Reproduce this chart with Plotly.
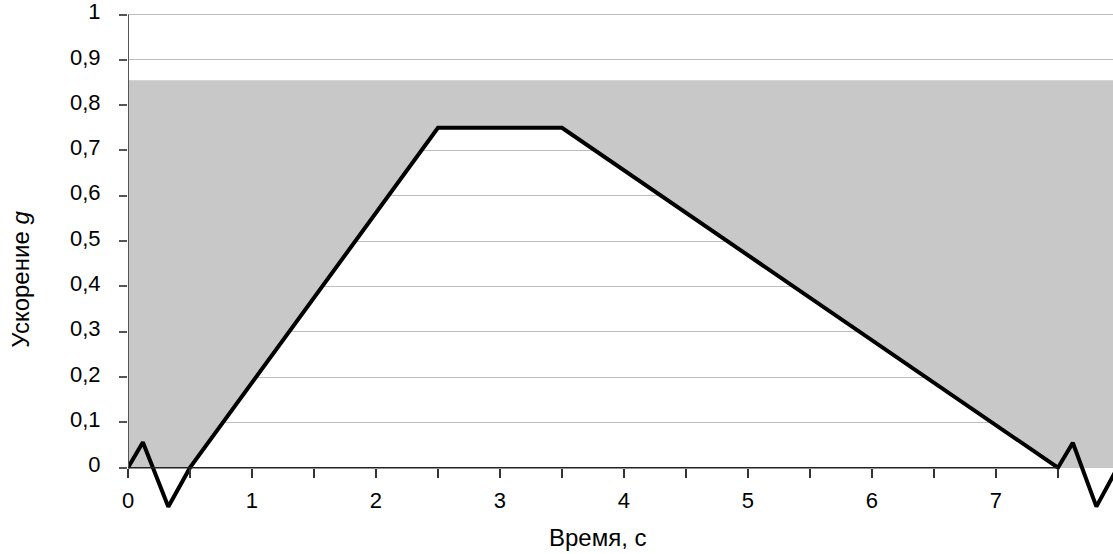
import plotly.graph_objects as go

# Data
time_s = [0, 0.12, 0.325, 0.5, 2.5, 3.5, 7.5, 7.62, 7.81, 8.0]
accel_g = [0, 0.056, -0.086, 0, 0.75, 0.75, 0, 0.055, -0.086, 0.01]

band_top = 0.855          # upper limit of grey band
x_axis_end = 7.5          # axis line drawn only up to this time
x_max = 7.944
y_min, y_max = -0.1, 1.01
y_tick_vals = [0, 0.1, 0.2, 0.3, 0.4, 0.5, 0.6, 0.7, 0.8, 0.9, 1]
y_tick_text = ["0", "0,1", "0,2", "0,3", "0,4", "0,5", "0,6", "0,7", "0,8", "0,9", "1"]
x_tick_vals = [i * 0.5 for i in range(16)]
x_tick_text = [str(int(v)) if v == int(v) else "" for v in x_tick_vals]

# grey band: from max(curve,0) (the trapezoid) up to band_top
trap = [(x, y) for x, y in zip(time_s, accel_g) if 0.5 <= x <= 7.5]
poly_x = [0, x_max, x_max] + [p[0] for p in reversed(trap)] + [0, 0]
poly_y = [band_top, band_top, 0] + [p[1] for p in reversed(trap)] + [0, band_top]

FONT = "Liberation Sans, Arial, sans-serif"

# plot area at page x 128..1113, y 10..513.5 (body margin removed via post_script)
L, T, R_EDGE, B_EDGE = 128, 10, 1113, 513.5
W, H = 1113, 554
plot_w = R_EDGE - L
plot_h = B_EDGE - T

fig = go.Figure()
fig.add_trace(go.Scatter(x=poly_x, y=poly_y, fill="toself", mode="none",
                         fillcolor="#c8c8c8", hoverinfo="skip", showlegend=False))
fig.add_trace(go.Scatter(x=time_s, y=accel_g, mode="lines",
                         line=dict(color="#000000", width=4), showlegend=False))

fig.add_shape(type="line", xref="x", yref="y", x0=0, x1=0, y0=0, y1=1,
              line=dict(color="#555555", width=2), layer="above")
fig.add_shape(type="line", xref="x", yref="y", x0=0, x1=x_axis_end, y0=0, y1=0,
              line=dict(color="#222222", width=1.5), layer="above")

fig.update_layout(
    width=W, height=H,
    margin=dict(l=L, r=W - R_EDGE, t=T, b=H - B_EDGE),
    plot_bgcolor="white", paper_bgcolor="white",
    font=dict(family=FONT, size=22, color="#000000"),
    xaxis=dict(range=[0, x_max], showgrid=False, zeroline=False, showline=False,
               anchor="free", position=(0 - y_min) / (y_max - y_min), automargin=False,
               tickmode="array", tickvals=x_tick_vals, ticktext=x_tick_text,
               ticks="outside", ticklen=9, tickwidth=1.5, tickcolor="#333333",
               ticklabelstandoff=4, tickfont=dict(size=22)),
    yaxis=dict(range=[y_min, y_max], showgrid=True, gridcolor="#bdbdbd", gridwidth=1.3,
               zeroline=False, showline=False, automargin=False,
               tickmode="array", tickvals=y_tick_vals, ticktext=y_tick_text,
               ticks="outside", ticklen=8, tickwidth=1.5, tickcolor="#555555",
               ticklabelstandoff=14, ticklabelshift=-3, ticklabeloverflow="allow",
               tickfont=dict(size=22)),
    annotations=[
        dict(text="Время, с", xref="paper", yref="paper", showarrow=False,
             x=(598 - L) / plot_w, y=-(538 - B_EDGE) / plot_h,
             xanchor="center", yanchor="middle", font=dict(family=FONT, size=24)),
        dict(text="Ускорение <i>g</i>", xref="paper", yref="paper", showarrow=False,
             x=-(L - 21) / plot_w, y=(B_EDGE - 280) / plot_h,
             xanchor="center", yanchor="middle",
             textangle=-90, font=dict(family=FONT, size=24)),
    ],
)

fig.write_html("out.html", config={"displayModeBar": False},
               post_script="document.body.style.margin='0';document.body.style.overflow='hidden';")
